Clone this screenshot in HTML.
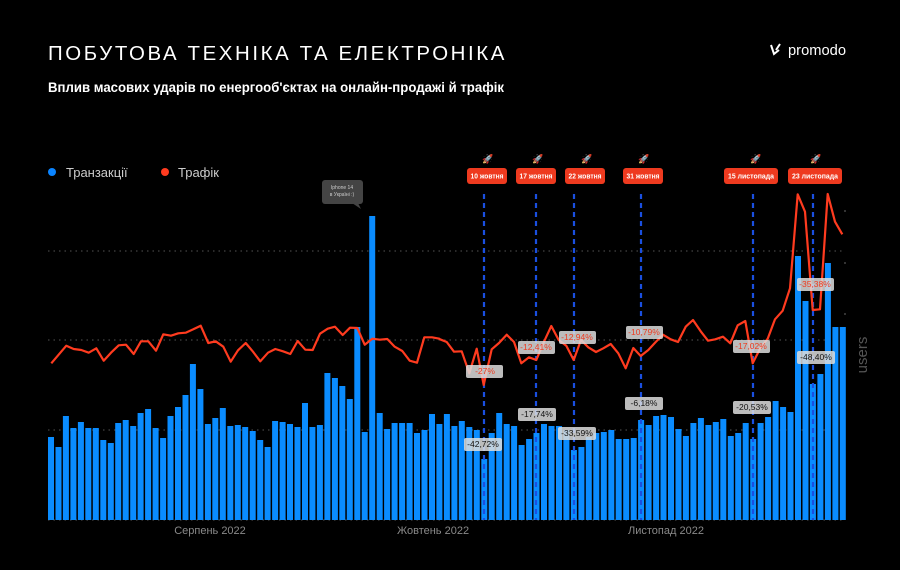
<!DOCTYPE html>
<html><head><meta charset="utf-8"><style>
body{margin:0;background:#000;width:900px;height:570px;overflow:hidden;font-family:"Liberation Sans","DejaVu Sans",sans-serif}
svg{display:block}
</style></head><body>
<svg id="s" width="900" height="570" viewBox="0 0 900 570" xmlns="http://www.w3.org/2000/svg">
<rect width="900" height="570" fill="#000"/>
<text x="48" y="60" fill="#fff" font-size="20.5" letter-spacing="2.6" textLength="459" lengthAdjust="spacingAndGlyphs">ПОБУТОВА ТЕХНІКА ТА ЕЛЕКТРОНІКА</text>
<text x="48" y="92" fill="#fff" font-size="14" font-weight="bold" textLength="456" lengthAdjust="spacingAndGlyphs">Вплив масових ударів по енергооб'єктах на онлайн-продажі й трафік</text>
<text x="788" y="55" fill="#fff" font-size="15" textLength="58" lengthAdjust="spacingAndGlyphs">promodo</text>
<g stroke="#fff" stroke-width="2" fill="none"><path d="M771 45 l3 9 l5 -4 M780 44 l-4 6"/></g>
<circle cx="52" cy="172" r="4" fill="#0a84ff"/>
<text x="66" y="177" fill="#ccc" font-size="13">Транзакції</text>
<circle cx="165" cy="172" r="4" fill="#ff3b1f"/>
<text x="178" y="177" fill="#ccc" font-size="13">Трафік</text>
<g stroke="#555" stroke-width="1" stroke-dasharray="1.5,4">
<line x1="48" y1="251" x2="845" y2="251"/><line x1="48" y1="340" x2="845" y2="340"/><line x1="48" y1="430" x2="845" y2="430"/><line x1="48" y1="520" x2="845" y2="520"/>
</g>
<g stroke="#666"><line x1="844" y1="211" x2="846" y2="211"/><line x1="844" y1="263" x2="846" y2="263"/><line x1="844" y1="314" x2="846" y2="314"/></g>
<g id="bars" fill="#0a8cff"></g>
<g stroke="#1a4fe0" stroke-width="2.2" stroke-dasharray="5,4">
<line x1="484" y1="194" x2="484" y2="520"/><line x1="536" y1="194" x2="536" y2="520"/><line x1="574" y1="194" x2="574" y2="520"/><line x1="641" y1="194" x2="641" y2="520"/><line x1="753" y1="194" x2="753" y2="520"/><line x1="813" y1="194" x2="813" y2="520"/>
</g>
<polyline id="ln" fill="none" stroke="#ff3b1f" stroke-width="2.2" stroke-linejoin="round"/>
<g font-size="7" font-weight="bold" fill="#fff" text-anchor="middle">
<rect x="467" y="168" width="40" height="16" rx="3" fill="#ee3a1f"/><text x="487" y="178.5" textLength="33" lengthAdjust="spacingAndGlyphs">10 жовтня</text>
<rect x="516" y="168" width="40" height="16" rx="3" fill="#ee3a1f"/><text x="536" y="178.5" textLength="33" lengthAdjust="spacingAndGlyphs">17 жовтня</text>
<rect x="565" y="168" width="40" height="16" rx="3" fill="#ee3a1f"/><text x="585" y="178.5" textLength="33" lengthAdjust="spacingAndGlyphs">22 жовтня</text>
<rect x="623" y="168" width="40" height="16" rx="3" fill="#ee3a1f"/><text x="643" y="178.5" textLength="33" lengthAdjust="spacingAndGlyphs">31 жовтня</text>
<rect x="724" y="168" width="54" height="16" rx="3" fill="#ee3a1f"/><text x="751" y="178.5" textLength="46" lengthAdjust="spacingAndGlyphs">15 листопада</text>
<rect x="788" y="168" width="54" height="16" rx="3" fill="#ee3a1f"/><text x="815" y="178.5" textLength="46" lengthAdjust="spacingAndGlyphs">23 листопада</text>
</g>
<g font-size="9" text-anchor="middle">
<text x="488" y="162">🚀</text><text x="538" y="162">🚀</text><text x="587" y="162">🚀</text><text x="644" y="162">🚀</text><text x="756" y="162">🚀</text><text x="816" y="162">🚀</text>
</g>
<g font-size="8.5" text-anchor="middle">
<g fill="#ddd" fill-opacity="0.85">
<rect x="466" y="365" width="37" height="13" rx="2"/><rect x="518" y="341" width="37" height="13" rx="2"/><rect x="559" y="331" width="37" height="13" rx="2"/><rect x="626" y="326" width="37" height="13" rx="2"/><rect x="733" y="340" width="37" height="13" rx="2"/><rect x="797" y="278" width="37" height="13" rx="2"/>
<rect x="464" y="438" width="38" height="13" rx="2"/><rect x="518" y="408" width="38" height="13" rx="2"/><rect x="558" y="427" width="38" height="13" rx="2"/><rect x="625" y="397" width="38" height="13" rx="2"/><rect x="733" y="401" width="38" height="13" rx="2"/><rect x="797" y="351" width="38" height="13" rx="2"/>
</g>
<g fill="#ee3a1f"><text x="485" y="374">-27%</text><text x="536" y="350">-12,41%</text><text x="577" y="340">-12,94%</text><text x="644" y="335">-10,79%</text><text x="751" y="349">-17,02%</text><text x="815" y="287">-35,38%</text></g>
<g fill="#111"><text x="483" y="447">-42,72%</text><text x="537" y="417">-17,74%</text><text x="577" y="436">-33,59%</text><text x="644" y="406">-6,18%</text><text x="752" y="410">-20,53%</text><text x="816" y="360">-48,40%</text></g>
</g>
<rect x="322" y="180" width="41" height="24" rx="3" fill="#444"/>
<path d="M352 203 L361 209 L358 203Z" fill="#444"/>
<text x="342" y="189" fill="#ccc" font-size="5" text-anchor="middle">Iphone 14</text>
<text x="342" y="196" fill="#ccc" font-size="5" text-anchor="middle">в Україні :)</text>
<g fill="#8a8a8a" font-size="11" text-anchor="middle">
<text x="210" y="534">Серпень 2022</text><text x="433" y="534">Жовтень 2022</text><text x="666" y="534">Листопад 2022</text>
</g>
<text transform="translate(867,355) rotate(-90)" fill="#555" font-size="15" text-anchor="middle">users</text>
</svg>
<script>
var tops=[437,447,416,428,422,428,428,440,443,423,420,426,413,409,428,438,416,407,395,364,389,424,418,408,426,425,427,431,440,447,421,422,424,427,403,427,425,373,378,386,399,327,432,216,413,429,423,423,423,433,430,414,424,414,426,421,427,430,459,433,413,424,426,445,439,433,424,426,426,430,450,447,437,433,432,430,439,439,438,420,425,416,415,417,429,436,423,418,425,422,419,436,433,423,439,423,417,401,407,412,256,301,384,374,263,327,327];
var g=document.getElementById('bars'),h='';
for(var i=0;i<tops.length;i++){var x=51+i*7.47-3;h+='<rect x="'+x.toFixed(1)+'" y="'+tops[i]+'" width="6" height="'+(520-tops[i])+'"/>';}
g.innerHTML=h;
var z1=[[64,550],[109,497],[131,507],[154,510],[176,518],[199,505],[221,542],[243,518],[266,496],[288,494],[311,522],[333,484],[355,484],[378,512],[400,463],[423,467],[445,460],[467,458],[490,448],[512,437],[535,489],[557,484],[580,500],[602,545],[624,511],[647,489],[669,515],[691,544],[714,518],[736,507],[759,514],[781,522],[803,483],[826,509],[848,510],[870,461],[893,446],[915,440],[938,465],[960,443],[982,444],[1004,494],[1027,476],[1049,479],[1072,477],[1094,500],[1117,513],[1139,542],[1161,548],[1183,472],[1206,472],[1228,476]];
var z2=[[0,598],[20,606],[42,635],[65,634],[88,700],[110,626],[131,735],[155,628],[177,609],[200,584],[222,606],[244,670],[267,652],[289,660],[312,605],[334,558],[356,600],[379,617],[401,660],[423,600],[445,622],[468,636],[490,625],[512,612],[535,640],[557,685],[580,624],[602,648],[625,630],[647,606],[669,584],[692,598],[714,606],[737,560],[759,540],[782,574],[804,602],[826,598],[849,590],[871,610],[893,556],[916,543],[938,670],[960,626],[983,596],[1005,538],[1028,512],[1050,445],[1073,163],[1095,215],[1118,510],[1140,508],[1163,162],[1185,245],[1207,283]];
var p=[];z1.forEach(function(a){p.push((30+a[0]/3).toFixed(1)+','+(180+a[1]/3).toFixed(1));});
z2.forEach(function(a){p.push((440+a[0]/3).toFixed(1)+','+(140+a[1]/3).toFixed(1));});
document.getElementById('ln').setAttribute('points',p.join(' '));
</script>
</body></html>
